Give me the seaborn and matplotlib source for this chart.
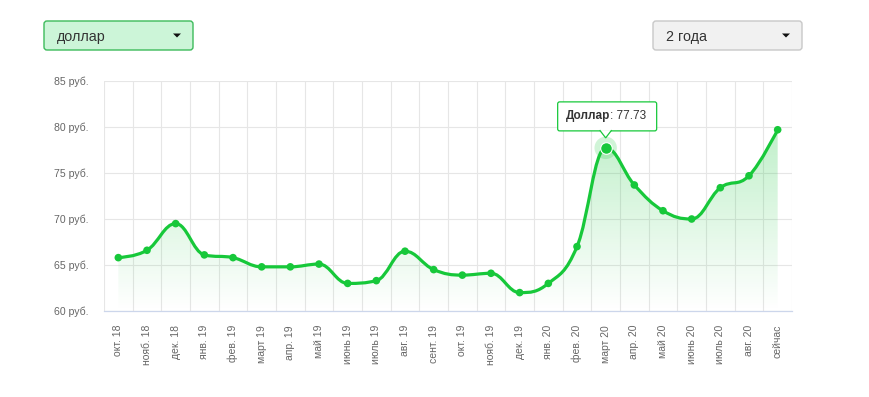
import numpy as np
import pandas as pd
import seaborn as sns
import matplotlib.pyplot as plt
import matplotlib.transforms as mtransforms
from matplotlib.path import Path
from matplotlib.patches import PathPatch, FancyBboxPatch, Polygon

# ----------------------------------------------------------------------------
# data
# ----------------------------------------------------------------------------
months = ['окт. 18', 'нояб. 18', 'дек. 18', 'янв. 19', 'фев. 19', 'март 19',
          'апр. 19', 'май 19', 'июнь 19', 'июль 19', 'авг. 19', 'сент. 19',
          'окт. 19', 'нояб. 19', 'дек. 19', 'янв. 20', 'фев. 20', 'март 20',
          'апр. 20', 'май 20', 'июнь 20', 'июль 20', 'авг. 20', 'сейчас']
usd_rub = [65.8, 66.6, 69.5, 66.1, 65.8, 64.8,
           64.8, 65.1, 63.0, 63.3, 66.5, 64.5,
           63.9, 64.1, 62.0, 63.0, 67.0, 77.73,
           73.7, 70.9, 70.0, 73.4, 74.7, 79.7]
y_ticks = [60, 65, 70, 75, 80, 85]
tooltip_idx = 17
series_name = 'Доллар'
currency_label = 'доллар'
period_label = '2 года'

GREEN = '#17c83a'
GRID = '#e6e6e6'
LABEL = '#666666'

df = pd.DataFrame({'idx': range(len(months)), 'month': months, 'rate': usd_rub})


def spline_path(xs, ys, s=1.5):
    # highcharts-like spline control points
    n = len(xs)
    lc = list(zip(xs, ys))
    rc = list(zip(xs, ys))
    d = s + 1
    for i in range(1, n - 1):
        px, py = xs[i], ys[i]
        lx, ly = xs[i - 1], ys[i - 1]
        nx, ny = xs[i + 1], ys[i + 1]
        lcx, lcy = (s * px + lx) / d, (s * py + ly) / d
        rcx, rcy = (s * px + nx) / d, (s * py + ny) / d
        corr = (rcy - lcy) * (rcx - px) / (rcx - lcx) + py - rcy
        lcy += corr
        rcy += corr
        if lcy > ly and lcy > py:
            lcy = max(ly, py); rcy = 2 * py - lcy
        elif lcy < ly and lcy < py:
            lcy = min(ly, py); rcy = 2 * py - lcy
        if rcy > ny and rcy > py:
            rcy = max(ny, py); lcy = 2 * py - rcy
        elif rcy < ny and rcy < py:
            rcy = min(ny, py); lcy = 2 * py - rcy
        lc[i] = (lcx, lcy)
        rc[i] = (rcx, rcy)
    verts = [(xs[0], ys[0])]
    codes = [Path.MOVETO]
    for i in range(1, n):
        verts += [rc[i - 1], lc[i], (xs[i], ys[i])]
        codes += [Path.CURVE4] * 3
    return verts, codes


# ----------------------------------------------------------------------------
# figure
# ----------------------------------------------------------------------------
sns.set_style('white')
plt.rcParams['font.family'] = ['Liberation Sans', 'DejaVu Sans']

W, H = 870, 397
fig = plt.figure(figsize=(W / 100, H / 100), dpi=100)
ax = fig.add_axes([104 / W, (H - 311) / H, (792 - 104) / W, (311 - 81) / H])
ax.set_xlim(-0.5, len(months) - 0.5)
ax.set_ylim(60, 85)

xs = df['idx'].tolist()
ys = df['rate'].tolist()
verts, codes = spline_path(xs, ys)

# gradient area under the curve
area_verts = [(xs[0], 60)] + verts + [(xs[-1], 60), (xs[0], 60)]
area_codes = [Path.MOVETO, Path.LINETO] + codes[1:] + [Path.LINETO, Path.CLOSEPOLY]
area_patch = PathPatch(Path(area_verts, area_codes), fc='none', ec='none',
                       transform=ax.transData)
ax.add_patch(area_patch)
grad = np.zeros((256, 1, 4))
grad[..., 0], grad[..., 1], grad[..., 2] = 0.09, 0.78, 0.23
grad[:, 0, 3] = np.linspace(0.0, 0.34, 256)
img = ax.imshow(grad, extent=(-0.5, len(months) - 0.5, 60, 85), origin='lower',
                aspect='auto', zorder=1, interpolation='bilinear')
img.set_clip_path(area_patch)

# smooth line
ax.add_patch(PathPatch(Path(verts, codes), fc='none', ec=GREEN, lw=2.3,
                       zorder=3, capstyle='round', joinstyle='round'))

sns.scatterplot(data=df, x='idx', y='rate', ax=ax, color=GREEN, s=30,
                edgecolor='none', zorder=4, legend=False)

# hovered point
ax.scatter([xs[tooltip_idx]], [ys[tooltip_idx]], s=260, color=GREEN,
           alpha=0.2, edgecolor='none', zorder=4)
ax.scatter([xs[tooltip_idx]], [ys[tooltip_idx]], s=70, color=GREEN,
           edgecolor='white', linewidth=0.8, zorder=5)

# axes styling
ax.set_xticks(range(len(months)), months, rotation=90)
ax.set_xticks(np.arange(-0.5, len(months), 1), minor=True)
ax.set_yticks(y_ticks, [f'{v} руб.' for v in y_ticks])
ax.grid(which='minor', axis='x', color=GRID, lw=0.8)
ax.grid(which='major', axis='y', color=GRID, lw=0.8)
ax.grid(which='major', axis='x', visible=False)
ax.tick_params(axis='x', which='major', length=0, pad=10, labelsize=7.5,
               labelcolor=LABEL)
ax.tick_params(axis='x', which='minor', length=7, color='#ccd6eb', width=0.8)
ax.tick_params(axis='y', length=0, pad=11, labelsize=7.6, labelcolor=LABEL)
for side in ['left', 'right', 'top']:
    ax.spines[side].set_visible(False)
ax.spines['bottom'].set_color('#ccd6eb')
ax.spines['bottom'].set_linewidth(0.9)
ax.set_xlabel('')
ax.set_ylabel('')

# ----------------------------------------------------------------------------
# tooltip (pixel offsets from hovered point)
# ----------------------------------------------------------------------------
px, py = ax.transData.transform((xs[tooltip_idx], ys[tooltip_idx]))
ident = mtransforms.IdentityTransform()
bx0, by0, bw, bh = px - 48, py + 17, 99, 29
fig.patches.append(FancyBboxPatch((bx0, by0), bw, bh,
                                  boxstyle='round,pad=0,rounding_size=2',
                                  fc='white', ec=GREEN, lw=0.9,
                                  transform=ident, figure=fig, zorder=10))
fig.patches.append(Polygon([(px - 6, by0 + 0.8), (px, py + 10), (px + 6, by0 + 0.8)],
                           closed=False, fc='white', ec=GREEN, lw=0.9,
                           transform=ident, figure=fig, zorder=11))
t1 = fig.text(bx0 + 8, by0 + bh / 2, series_name, transform=ident,
              fontsize=8.5, fontweight='bold', color='#333333',
              va='center', ha='left', zorder=12)
fig.canvas.draw()
bb = t1.get_window_extent()
fig.text(bb.x1, by0 + bh / 2, f': {ys[tooltip_idx]:.2f}', transform=ident,
         fontsize=8.5, color='#333333', va='center', ha='left', zorder=12)

# ----------------------------------------------------------------------------
# dropdown widgets
# ----------------------------------------------------------------------------
def dropdown(x0, x1, ytop, ybot, label, fc, ec):
    fig.patches.append(FancyBboxPatch((x0, H - ybot), x1 - x0, ybot - ytop,
                                      boxstyle='round,pad=0,rounding_size=3',
                                      fc=fc, ec=ec, lw=1.0, transform=ident,
                                      figure=fig))
    yc = H - (ytop + ybot) / 2
    fig.text(x0 + 13, yc - 2, label, transform=ident, fontsize=10.3,
             color='#333333', va='center', ha='left')
    cx = x1 - 16
    fig.patches.append(Polygon([(cx - 4, yc + 2), (cx + 4, yc + 2), (cx, yc - 2)],
                               closed=True, fc='#111111', ec='none',
                               transform=ident, figure=fig))


dropdown(44, 193, 21, 50, currency_label, '#ccf5d8', '#3dbb5b')
dropdown(653, 802, 21, 50, period_label, '#f1f1f1', '#c8c8c8')

fig.savefig('out.png', dpi=100)
